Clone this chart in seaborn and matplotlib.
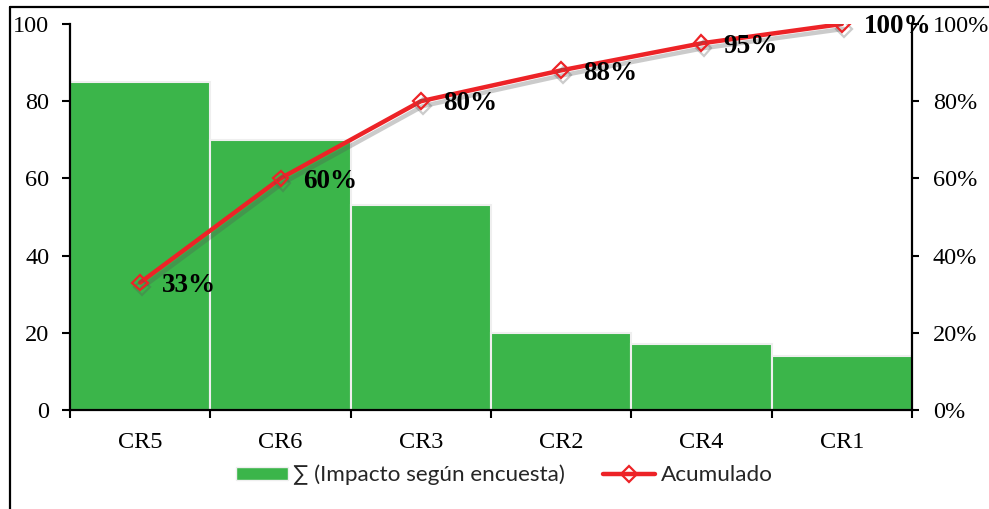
import numpy as np
import pandas as pd
import matplotlib
matplotlib.use("Agg")
import matplotlib.pyplot as plt
import matplotlib.patheffects as pe
from matplotlib.lines import Line2D
from matplotlib.patches import Patch
from matplotlib.font_manager import FontProperties
import seaborn as sns

# Pareto data: impact per risk and cumulative share
categorias = ["CR5", "CR6", "CR3", "CR2", "CR4", "CR1"]
impacto = [85, 70, 53, 20, 17, 14]
acumulado = [33, 60, 80, 88, 95, 100]
ticks_izq = [0, 20, 40, 60, 80, 100]
ticks_der = [0, 20, 40, 60, 80, 100]
etiqueta_barras = "\u2211 (Impacto según encuesta)"
etiqueta_linea = "Acumulado"

VERDE = "#3BB54A"
ROJO = "#ED2327"
BORDE = "#EFEFEF"

sns.set_theme(style="white")
plt.rcParams["font.family"] = ["Liberation Serif", "DejaVu Serif"]

fig = plt.figure(figsize=(9.89, 5.09), dpi=100)
ax = fig.add_axes([0.0708, 0.1945, 0.8513, 0.7583])

df = pd.DataFrame({"cat": categorias, "val": impacto})
sns.barplot(data=df, x="cat", y="val", ax=ax, color=VERDE, width=1.0,
            saturation=1, edgecolor=BORDE, linewidth=1.5)

ax2 = ax.twinx()
sns.lineplot(x=np.arange(len(categorias)), y=acumulado, ax=ax2, color=ROJO,
             lw=3.2, marker="D", markersize=8, markerfacecolor="none",
             markeredgecolor=ROJO, markeredgewidth=1.6, legend=False,
             path_effects=[pe.SimpleLineShadow(offset=(1.5, -3.5), shadow_color="#555555", alpha=0.3),
                           pe.Normal()])

for i, v in enumerate(acumulado):
    ax2.annotate(f"{v}%", (i, v), xytext=(16, -2), textcoords="offset points",
                 ha="left", va="center", fontsize=19.5, fontweight="bold",
                 color="black", annotation_clip=False)

# Axes limits and ticks
ax.set_xlim(-0.5, len(categorias) - 0.5)
ax.set_ylim(0, 100)
ax2.set_ylim(0, 100)
ax.set_xlabel("")
ax.set_ylabel("")
ax2.set_ylabel("")

ax.set_xticks(np.arange(len(categorias) + 1) - 0.5)
ax.set_xticklabels([])
ax.set_xticks(np.arange(len(categorias)), minor=True)
ax.set_xticklabels(categorias, minor=True)
ax.set_yticks(ticks_izq)
ax.set_yticklabels([str(t) for t in ticks_izq])
ax2.set_yticks(ticks_der)
ax2.set_yticklabels([f"{t}%" for t in ticks_der])

ax.tick_params(axis="x", which="major", bottom=True, direction="out", length=6,
               width=1.5, color="black")
ax.tick_params(axis="x", which="minor", bottom=True, length=0, pad=15.5,
               labelsize=17.5, labelcolor="black")
ax.tick_params(axis="y", left=True, direction="out", length=6, width=1.5,
               pad=9, labelsize=17.5, labelcolor="black", color="black")
ax2.tick_params(axis="y", right=True, direction="out", length=5, width=1.5,
                pad=10, labelsize=17.5, labelcolor="black", color="black")

for a in (ax, ax2):
    for s in a.spines.values():
        s.set_color("black")
        s.set_linewidth(1.6)
    a.spines["top"].set_visible(False)
ax.spines["right"].set_visible(False)
ax2.spines["left"].set_visible(False)
ax2.spines["bottom"].set_visible(False)

# Legend below the plot
prop = FontProperties(family=["Lato", "DejaVu Sans"], size=16.2)
handles = [
    Patch(facecolor=VERDE, edgecolor=BORDE, linewidth=1),
    Line2D([0], [0], color=ROJO, lw=3.2, marker="D", markersize=8,
           markerfacecolor="none", markeredgecolor=ROJO, markeredgewidth=1.6),
]
fig.legend(handles, [etiqueta_barras, etiqueta_linea], loc="center",
           bbox_to_anchor=(0.510, 0.067), ncol=2, frameon=False, prop=prop,
           handlelength=2.3, handleheight=0.5, handletextpad=0.25,
           columnspacing=1.7)

# Outer frame lines (left and top)
fig.add_artist(Line2D([10 / 989, 1.0], [1 - 7 / 509, 1 - 7 / 509],
                      transform=fig.transFigure, color="black", lw=1.6))
fig.add_artist(Line2D([10 / 989, 10 / 989], [0.0, 1 - 7 / 509],
                      transform=fig.transFigure, color="black", lw=1.6))

fig.savefig("out.png", dpi=100)
